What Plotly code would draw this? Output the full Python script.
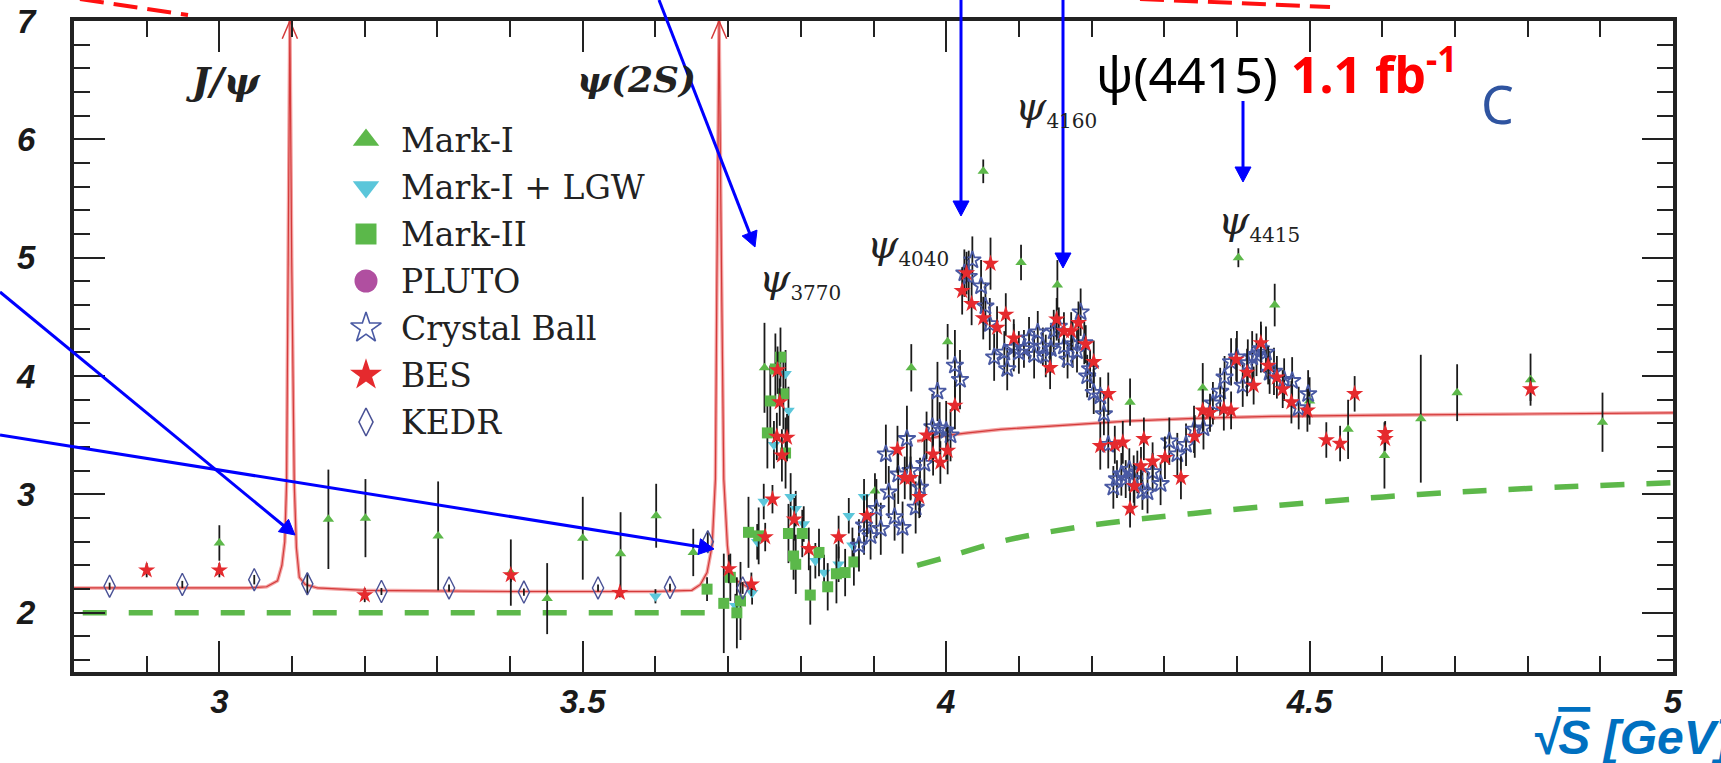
import math
import plotly.graph_objects as go

W, H = 1721, 763

# ---------------- data ----------------
markI_x = [3.000, 3.150, 3.201, 3.301, 3.401, 3.451, 3.500, 3.552, 3.601, 3.652, 3.750, 3.902, 3.952, 4.002,
           4.051, 4.103, 4.153, 4.253, 4.353, 4.402, 4.452, 4.500, 4.553, 4.603, 4.653, 4.703, 4.804, 4.903]
markI_y = [2.59, 2.79, 2.80, 2.65, 2.34, 2.12, 2.63, 2.50, 2.82, 2.51, 4.07, 3.03, 4.07, 4.29,
           5.73, 4.96, 4.77, 3.78, 3.90, 5.00, 4.60, 3.79, 3.55, 3.33, 3.64, 3.86, 3.97, 3.61]
markI_err = [0.15, 0.42, 0.33, 0.46, 0.28, 0.30, 0.35, 0.35, 0.27, 0.20, 0.38, 0.15, 0.20, 0.15,
             0.10, 0.15, 0.21, 0.20, 0.21, 0.08, 0.18, 0.20, 0.25, 0.28, 0.54, 0.24, 0.22, 0.25]

lgw_x = [3.600, 3.710, 3.733, 3.740, 3.749, 3.763, 3.779, 3.783, 3.786, 3.793, 3.804, 3.820, 3.832, 3.852,
         3.866, 3.871, 3.887]
lgw_y = [2.14, 2.06, 2.17, 2.60, 2.94, 3.42, 4.02, 3.71, 2.98, 2.88, 2.75, 2.44, 2.34, 2.41, 2.82, 2.57, 2.98]
lgw_err = [0.06, 0.10, 0.10, 0.15, 0.15, 0.20, 0.20, 0.20, 0.20, 0.15, 0.15, 0.15, 0.15, 0.15, 0.15, 0.15, 0.15]

markII_x = [3.671, 3.694, 3.703, 3.712, 3.717, 3.728, 3.742, 3.754, 3.758, 3.765, 3.772, 3.776, 3.779, 3.783,
            3.790, 3.793, 3.802, 3.813, 3.825, 3.837, 3.849, 3.861, 3.873]
markII_y = [2.20, 2.08, 2.30, 2.00, 2.10, 2.68, 2.65, 3.52, 3.79, 4.06, 4.16, 3.85, 3.35, 2.67,
            2.48, 2.41, 2.67, 2.15, 2.51, 2.22, 2.33, 2.34, 2.43]
markII_err = [0.10, 0.42, 0.20, 0.30, 0.33, 0.30, 0.24, 0.30, 0.30, 0.30, 0.25, 0.30, 0.30, 0.25,
              0.20, 0.25, 0.20, 0.25, 0.20, 0.20, 0.25, 0.20, 0.20]

pluto_x = []
pluto_y = []

cb_x = [3.880, 3.887, 3.896, 3.904, 3.910, 3.917, 3.921, 3.929, 3.934, 3.940, 3.946, 3.951, 3.958, 3.964,
        3.970, 3.981, 3.988, 3.991, 4.000, 4.006, 4.012, 4.019, 4.025, 4.031, 4.036, 4.048, 4.054, 4.060,
        4.066, 4.080, 4.084, 4.093, 4.100, 4.107, 4.114, 4.121, 4.126, 4.133, 4.137, 4.144, 4.148, 4.155,
        4.162, 4.167, 4.174, 4.180, 4.185, 4.190, 4.194, 4.198, 4.203, 4.212, 4.217, 4.223, 4.230, 4.235,
        4.241, 4.247, 4.252, 4.258, 4.263, 4.270, 4.277, 4.284, 4.295, 4.307, 4.318, 4.330, 4.341, 4.354,
        4.367, 4.377, 4.383, 4.392, 4.400, 4.408, 4.415, 4.421, 4.427, 4.433, 4.440, 4.445, 4.451, 4.465,
        4.476, 4.485, 4.498]
cb_y = [2.57, 2.74, 2.65, 2.88, 2.71, 3.34, 3.02, 2.81, 3.17, 2.72, 3.47, 3.20, 2.89, 3.06,
        3.26, 3.57, 3.87, 3.56, 3.54, 3.50, 4.09, 3.97, 4.87, 4.84, 4.98, 4.76, 4.59, 4.44,
        4.16, 4.20, 4.06, 4.24, 4.20, 4.23, 4.32, 4.18, 4.37, 4.25, 4.17, 4.23, 4.38, 4.42,
        4.25, 4.14, 4.27, 4.21, 4.54, 4.28, 4.00, 4.06, 3.86, 3.83, 3.68, 3.42, 3.06, 3.13,
        3.17, 3.13, 3.21, 3.13, 3.19, 3.03, 3.02, 3.19, 3.09, 3.45, 3.34, 3.42, 3.55, 3.56,
        3.77, 3.87, 3.99, 4.12, 4.16, 3.92, 4.11, 4.16, 4.18, 4.23, 4.20, 4.03, 4.04, 3.97,
        3.96, 3.73, 3.85]
cb_err = [0.22, 0.25, 0.20, 0.25, 0.22, 0.25, 0.22, 0.20, 0.25, 0.22, 0.28, 0.25, 0.22, 0.25,
          0.25, 0.28, 0.25, 0.22, 0.25, 0.22, 0.30, 0.25, 0.20, 0.22, 0.20, 0.22, 0.20, 0.22,
          0.20, 0.18, 0.18, 0.20, 0.18, 0.16, 0.18, 0.20, 0.18, 0.16, 0.18, 0.20, 0.18, 0.16,
          0.18, 0.16, 0.20, 0.18, 0.20, 0.18, 0.18, 0.16, 0.18, 0.16, 0.18, 0.20, 0.18, 0.16,
          0.18, 0.16, 0.18, 0.20, 0.18, 0.16, 0.18, 0.16, 0.18, 0.20, 0.18, 0.18, 0.20, 0.18,
          0.18, 0.20, 0.18, 0.20, 0.22, 0.18, 0.20, 0.22, 0.18, 0.20, 0.22, 0.18, 0.20, 0.18,
          0.20, 0.18, 0.20]

bes_x = [2.900, 3.000, 3.200, 3.401, 3.551, 3.701, 3.732, 3.751, 3.761, 3.767, 3.768, 3.771, 3.774, 3.781,
         3.791, 3.811, 3.852, 3.891, 3.933, 3.943, 3.951, 3.963, 3.973, 3.982, 3.992, 4.002, 4.012, 4.022,
         4.028, 4.035, 4.051, 4.061, 4.070, 4.082, 4.093, 4.143, 4.152, 4.162, 4.172, 4.182, 4.192, 4.203,
         4.212, 4.223, 4.232, 4.243, 4.253, 4.259, 4.268, 4.272, 4.284, 4.301, 4.323, 4.342, 4.353, 4.363,
         4.382, 4.392, 4.399, 4.414, 4.423, 4.433, 4.443, 4.455, 4.463, 4.475, 4.497, 4.523, 4.542, 4.562,
         4.604, 4.604, 4.804]
bes_y = [2.36, 2.36, 2.15, 2.32, 2.17, 2.37, 2.24, 2.64, 2.96, 3.49, 4.05, 3.78, 3.33, 3.48,
         2.79, 2.54, 2.64, 2.82, 3.38, 3.14, 3.14, 2.98, 3.50, 3.34, 3.27, 3.37, 3.75, 4.72,
         4.87, 4.61, 4.49, 4.95, 4.41, 4.52, 4.32, 4.07, 4.48, 4.38, 4.38, 4.45, 4.27, 4.12,
         3.41, 3.85, 3.42, 3.44, 2.88, 3.07, 3.24, 3.47, 3.28, 3.31, 3.14, 3.49, 3.71, 3.69,
         3.72, 3.71, 4.14, 4.03, 3.92, 4.28, 4.09, 3.99, 3.89, 3.78, 3.71, 3.46, 3.43, 3.85,
         3.52, 3.47, 3.89]
bes_err = [0.06, 0.06, 0.06, 0.06, 0.04, 0.12, 0.10, 0.12, 0.12, 0.20, 0.20, 0.20, 0.22, 0.20,
           0.18, 0.18, 0.18, 0.18, 0.20, 0.18, 0.18, 0.18, 0.20, 0.18, 0.18, 0.20, 0.20, 0.20,
           0.18, 0.18, 0.18, 0.22, 0.18, 0.18, 0.16, 0.18, 0.18, 0.16, 0.16, 0.18, 0.16, 0.18,
           0.20, 0.18, 0.16, 0.18, 0.16, 0.18, 0.16, 0.18, 0.16, 0.18, 0.18, 0.18, 0.18, 0.16,
           0.18, 0.16, 0.18, 0.20, 0.16, 0.18, 0.16, 0.18, 0.16, 0.18, 0.18, 0.15, 0.15, 0.15,
           0.10, 0.10, 0.10]

kedr_x = [2.849, 2.949, 3.048, 3.121, 3.223, 3.316, 3.419, 3.521, 3.620, 3.672, 3.720]
kedr_y = [2.225, 2.240, 2.280, 2.245, 2.180, 2.210, 2.175, 2.210, 2.215, 2.600, 2.210]
kedr_err = [0.03, 0.03, 0.04, 0.09, 0.03, 0.03, 0.03, 0.03, 0.03, 0.08, 0.05]

# theory curve (red), low-energy part with J/psi and psi(2S) spikes
theory1_x = [2.800, 2.950, 3.040, 3.065, 3.080, 3.086, 3.090, 3.0925, 3.095, 3.0970, 3.0995, 3.1030,
             3.106, 3.110, 3.118, 3.135, 3.200, 3.400, 3.600, 3.650, 3.662, 3.671, 3.678, 3.6825,
             3.6845, 3.6875, 3.691, 3.694, 3.699, 3.703, 3.712, 3.726, 3.738]
theory1_y = [2.21, 2.21, 2.21, 2.22, 2.27, 2.40, 2.60, 3.10, 5.00, 7.00, 5.00, 3.10,
             2.55, 2.30, 2.24, 2.21, 2.19, 2.18, 2.18, 2.19, 2.24, 2.34, 2.57, 3.13,
             4.80, 7.00, 4.80, 3.13, 2.57, 2.34, 2.27, 2.22, 2.19]
theory2_x = [3.960, 3.990, 4.030, 4.075, 4.150, 4.250, 4.350, 4.450, 4.600, 4.800, 5.000]
theory2_y = [3.45, 3.49, 3.52, 3.55, 3.58, 3.62, 3.645, 3.66, 3.67, 3.68, 3.69]
peaks_x = [3.0970, 3.6875]

# parton-model expectation (green dashed)
pm1_x = [2.812, 3.672]
pm1_y = [2.00, 2.00]
pm2_x = [3.960, 4.000, 4.080, 4.200, 4.340, 4.500, 4.650, 4.800, 5.000]
pm2_y = [2.40, 2.47, 2.61, 2.74, 2.84, 2.93, 3.00, 3.05, 3.10]

x_tick_vals = [3, 3.5, 4, 4.5, 5]
x_tick_text = ["3", "3.5", "4", "4.5", "5"]
y_tick_vals = [2, 3, 4, 5, 6, 7]
y_tick_text = ["2", "3", "4", "5", "6", "7"]

legend_labels = ["Mark-I", "Mark-I + LGW", "Mark-II", "PLUTO", "Crystal Ball", "BES", "KEDR"]

# ---------------- styles ----------------
C_MARKI = "#5DB84A"
C_LGW = "#5BC6DA"
C_MARKII = "#5BB84A"
C_PLUTO = "#B04FA0"
C_CB = "#4959A3"
C_BES = "#E52A2E"
C_KEDR = "#4A5296"
C_ERR = "#1a1a1a"

legend_style = [
    dict(symbol="triangle-up", size=23, color=C_MARKI),
    dict(symbol="triangle-down", size=23, color=C_LGW),
    dict(symbol="square", size=21, color=C_MARKII),
    dict(symbol="circle", size=23, color=C_PLUTO),
    dict(symbol="star-open", size=23, color=C_CB, line=dict(width=1.6, color=C_CB)),
    dict(symbol="star", size=24, color=C_BES, line=dict(width=0)),
    dict(symbol="diamond-tall-open", size=20, color=C_KEDR, line=dict(width=1.6, color=C_KEDR)),
]


def err(arr):
    return dict(type="data", array=arr, visible=True, color=C_ERR, thickness=1.8, width=0)


fig = go.Figure()

# green dashed parton model
for xs, ys in [(pm1_x, pm1_y), (pm2_x, pm2_y)]:
    fig.add_trace(go.Scatter(x=xs, y=ys, mode="lines", line=dict(color="#5DB84A", width=5.5, dash="24px,22px", shape="spline"),
                             hoverinfo="skip"))

# red theory curve: halo + core
for xs, ys in [(theory1_x, theory1_y), (theory2_x, theory2_y)]:
    fig.add_trace(go.Scatter(x=xs, y=ys, mode="lines", line=dict(color="#F3A5A5", width=3.6), hoverinfo="skip"))
    fig.add_trace(go.Scatter(x=xs, y=ys, mode="lines", line=dict(color="#D43A3A", width=1.2), hoverinfo="skip"))

# chevrons at the top of the resonance spikes
ymax = 7.0
for px in peaks_x:
    fig.add_trace(go.Scatter(x=[px - 0.0105, px, px + 0.0105], y=[ymax - 0.15, ymax, ymax - 0.15], mode="lines",
                             line=dict(color="#D43A3A", width=1.5), cliponaxis=False, hoverinfo="skip"))

# data
fig.add_trace(go.Scatter(x=markI_x, y=markI_y, error_y=err(markI_err), mode="markers",
                         marker=dict(symbol="triangle-up", size=10, color=C_MARKI)))
fig.add_trace(go.Scatter(x=lgw_x, y=lgw_y, error_y=err(lgw_err), mode="markers",
                         marker=dict(symbol="triangle-down", size=11, color=C_LGW)))
fig.add_trace(go.Scatter(x=markII_x, y=markII_y, error_y=err(markII_err), mode="markers",
                         marker=dict(symbol="square", size=11, color=C_MARKII)))
fig.add_trace(go.Scatter(x=cb_x, y=cb_y, error_y=err(cb_err), mode="markers",
                         marker=dict(symbol="star-open", size=13, color=C_CB, line=dict(width=1.8, color=C_CB))))
fig.add_trace(go.Scatter(x=bes_x, y=bes_y, error_y=err(bes_err), mode="markers",
                         marker=dict(symbol="star", size=13, color=C_BES, line=dict(width=0))))
fig.add_trace(go.Scatter(x=kedr_x, y=kedr_y, error_y=err(kedr_err), mode="markers",
                         marker=dict(symbol="diamond-tall-open", size=16, color=C_KEDR, line=dict(width=1.4, color=C_KEDR))))

# ---------------- overlay (pixel coordinates) ----------------
OV = dict(xaxis="x2", yaxis="y2")

# legend
leg_mx, leg_tx, leg_y0, leg_dy = 366, 399, 140, 47.0
annotations = []
for i, (lab, st) in enumerate(zip(legend_labels, legend_style)):
    yy = leg_y0 + i * leg_dy
    fig.add_trace(go.Scatter(x=[leg_mx], y=[yy], mode="markers", marker=st, hoverinfo="skip", **OV))
    annotations.append(dict(x=leg_tx, y=yy, xref="x2", yref="y2", text=lab, showarrow=False, xanchor="left",
                            yanchor="middle", font=dict(family="DejaVu Serif", size=33, color="#222")))

# red dashed overlay lines
for (x0, y0, x1, y1) in [(80, -1, 188, 15), (1140, -1, 1330, 7)]:
    fig.add_trace(go.Scatter(x=[x0, x1], y=[y0, y1], mode="lines", line=dict(color="#FF1010", width=4, dash="24px,10px"),
                             hoverinfo="skip", **OV))

# blue arrows
arrows = [(0, 292, 295, 535), (0, 435, 714, 549), (659, 0, 755, 247),
          (961, 0, 961, 216), (1063, 0, 1063, 268), (1243, 101, 1243, 182)]
HL, HW = 15, 16
for (x0, y0, x1, y1) in arrows:
    dx, dy = x1 - x0, y1 - y0
    d = math.hypot(dx, dy)
    ux, uy = dx / d, dy / d
    bx, by = x1 - HL * ux, y1 - HL * uy
    nx, ny = -uy, ux
    fig.add_trace(go.Scatter(x=[x0, bx + ux * 2], y=[y0, by + uy * 2], mode="lines", line=dict(color="#0000FF", width=3),
                             hoverinfo="skip", **OV))
    fig.add_trace(go.Scatter(x=[x1, bx + HW / 2 * nx, bx - HW / 2 * nx, x1], y=[y1, by + HW / 2 * ny, by - HW / 2 * ny, y1],
                             mode="lines", fill="toself", fillcolor="#0000FF", line=dict(color="#0000FF", width=1),
                             hoverinfo="skip", **OV))

# labels
def lab(x, y, text, size, xanchor="left", weight="normal", style="italic", family="DejaVu Serif", color="#222"):
    annotations.append(dict(x=x, y=y, xref="x2", yref="y2", text=text, showarrow=False, xanchor=xanchor,
                            yanchor="middle", font=dict(family=family, size=size, color=color, weight=weight, style=style)))

lab(223, 80, "J/ψ", 38, xanchor="center", weight="bold")
lab(636, 79, "ψ(2S)", 36, xanchor="center", weight="bold")
sub = "<sub><span style='font-size:20px;font-style:normal'>%s</span></sub>"
lab(757, 280, "ψ" + sub % "3770", 40)
lab(865, 246, "ψ" + sub % "4040", 40)
lab(1013, 108, "ψ" + sub % "4160", 40)
lab(1216, 222, "ψ" + sub % "4415", 40)

annotations.append(dict(x=1094, y=71, xref="x2", yref="y2", showarrow=False, xanchor="left", yanchor="middle",
                        text="ψ(4415)&nbsp;<b><span style='color:#FF0000'>1.1 fb<sup>-1</sup></span></b>",
                        font=dict(family="Noto Sans", size=50, color="#000")))
annotations.append(dict(x=1497, y=103, xref="x2", yref="y2", showarrow=False, xanchor="center", yanchor="middle",
                        text="C", font=dict(family="Noto Sans", size=52, color="#2F54A0")))
annotations.append(dict(x=1530, y=737, xref="x2", yref="y2", showarrow=False, xanchor="left", yanchor="middle",
                        text="√<span style='text-decoration:overline'>S</span> [GeV]",
                        font=dict(family="Liberation Sans", size=48, color="#0070C0", weight="bold", style="italic")))

tickfont = dict(family="Liberation Sans", size=33, color="#1a1a1a", weight="bold", style="italic")
axis_common = dict(ticks="inside", ticklen=31, tickwidth=2, tickcolor="#222", showline=True, linewidth=4,
                   linecolor="#222", mirror="ticks", showgrid=False, zeroline=False, tickfont=tickfont,
                   tickmode="array", fixedrange=True, automargin=False)

fig.update_layout(
    width=W, height=H, margin=dict(l=0, r=0, t=0, b=0, pad=0, autoexpand=False),
    paper_bgcolor="white", plot_bgcolor="rgba(0,0,0,0)", showlegend=False,
    xaxis=dict(domain=[74 / W, 1673 / W], range=[2.8, 5.0], tickvals=x_tick_vals, ticktext=x_tick_text,
               ticklabelstandoff=-3,
               minor=dict(tick0=3, dtick=0.1, ticks="inside", ticklen=16, tickwidth=2, tickcolor="#222", showgrid=False),
               **axis_common),
    yaxis=dict(domain=[1 - 672 / H, 1 - 21 / H], range=[1.5, 7.0], tickvals=y_tick_vals, ticktext=y_tick_text,
               ticklabelstandoff=28,
               minor=dict(tick0=2, dtick=0.2, ticks="inside", ticklen=16, tickwidth=2, tickcolor="#222", showgrid=False),
               **axis_common),
    xaxis2=dict(domain=[0, 1], range=[0, W], visible=False, anchor="y2", fixedrange=True, automargin=False),
    yaxis2=dict(domain=[0, 1], range=[H, 0], visible=False, anchor="x2", fixedrange=True, automargin=False),
    annotations=annotations,
)

fig.write_html("out.html")
